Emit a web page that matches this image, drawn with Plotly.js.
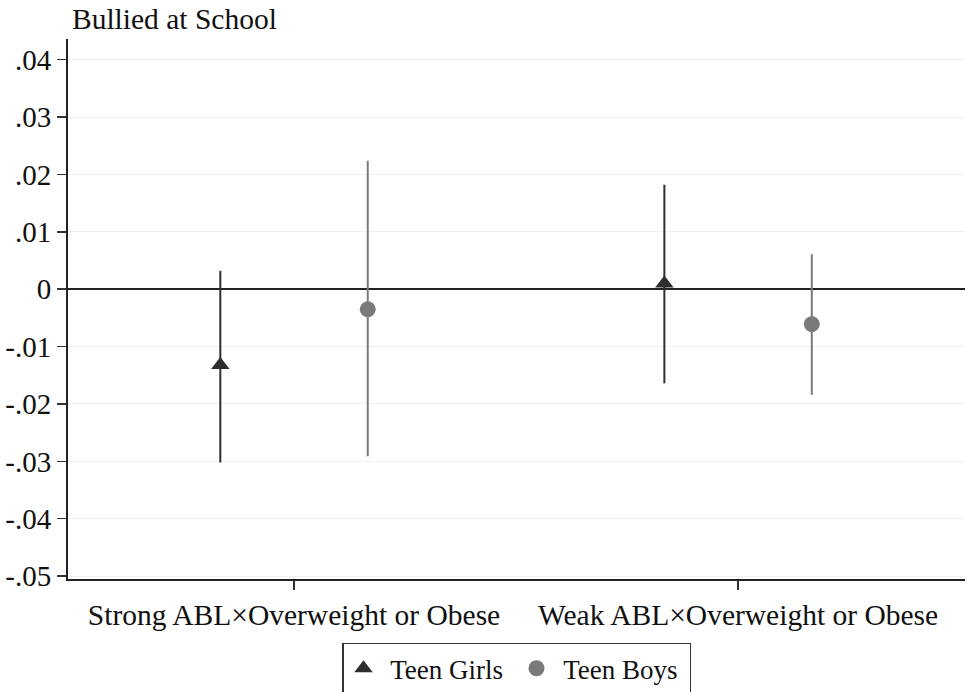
<!DOCTYPE html>
<html>
<head>
<meta charset="utf-8">
<script src="https://cdn.plot.ly/plotly-3.0.1.min.js"></script>
<style>
  html, body { margin: 0; padding: 0; background: #fff; }
  #chart { width: 969px; height: 692px; }
</style>
</head>
<body>
<div id="chart"></div>
<script>
// Categories and tick labels
const categories = ["Strong ABL×Overweight or Obese", "Weak ABL×Overweight or Obese"];
const categoryPos = [1, 2];
const yTickVals = [0.04, 0.03, 0.02, 0.01, 0, -0.01, -0.02, -0.03, -0.04, -0.05];
const yTickText = [".04", ".03", ".02", ".01", "0", "-.01", "-.02", "-.03", "-.04", "-.05"];

// Series: point estimates and 95% CI bounds
const girlsEst   = [-0.0132, 0.0010];
const girlsLower = [-0.0302, -0.0164];
const girlsUpper = [0.0032, 0.0182];

const boysEst    = [-0.0035, -0.0061];
const boysLower  = [-0.0291, -0.0184];
const boysUpper  = [0.0224, 0.0061];

const offset = 0.166;
const font = "Liberation Serif, Times New Roman, serif";

function series(name, pos, est, lo, hi, sym, col, sz) {
  return {
    type: "scatter",
    mode: "markers",
    name: name,
    x: pos,
    y: est,
    marker: { symbol: sym, color: col, size: sz },
    error_y: {
      type: "data",
      symmetric: false,
      array: hi.map((h, i) => h - est[i]),
      arrayminus: lo.map((l, i) => est[i] - l),
      color: col,
      thickness: 2,
      width: 0
    }
  };
}

const traces = [
  series("\u00a0Teen Girls", categoryPos.map(p => p - offset), girlsEst, girlsLower, girlsUpper, "triangle-up", "#2e2e2e", 16),
  series("\u00a0Teen Boys", categoryPos.map(p => p + offset), boysEst, boysLower, boysUpper, "circle", "#7a7a7a", 16)
];

const layout = {
  width: 969,
  height: 692,
  margin: { l: 68, r: 4, t: 39, b: 113, autoexpand: false },
  paper_bgcolor: "#ffffff",
  plot_bgcolor: "#ffffff",
  font: { family: font, size: 29.5, color: "#111" },
  title: {
    text: "Bullied at School",
    font: { family: font, size: 29.5, color: "#111" },
    xref: "container", yref: "container",
    x: 72 / 969, xanchor: "left",
    y: 1 - 19 / 692, yanchor: "middle"
  },
  xaxis: {
    range: [0.491, 2.511],
    tickmode: "array",
    tickvals: categoryPos,
    ticktext: categories,
    ticks: "outside",
    ticklen: 9,
    tickwidth: 1.5,
    tickcolor: "#333",
    showline: true,
    linecolor: "#222",
    linewidth: 2,
    showgrid: false,
    zeroline: false,
    automargin: false,
    tickfont: { family: font, size: 29.5, color: "#111" },
    fixedrange: true
  },
  yaxis: {
    range: [-0.0505, 0.0436],
    tickmode: "array",
    tickvals: yTickVals,
    ticktext: yTickText,
    ticks: "outside",
    ticklen: 9,
    tickwidth: 1.5,
    tickcolor: "#333",
    showline: true,
    linecolor: "#222",
    linewidth: 2,
    showgrid: true,
    gridcolor: "#efefef",
    gridwidth: 1,
    zeroline: true,
    zerolinecolor: "#222",
    zerolinewidth: 2,
    automargin: false,
    tickfont: { family: font, size: 29, color: "#111" },
    fixedrange: true
  },
  showlegend: true,
  legend: {
    orientation: "h",
    x: 0.5, xanchor: "center",
    xref: "paper", yref: "paper",
    y: -0.118, yanchor: "top",
    bordercolor: "#333",
    borderwidth: 1.5,
    bgcolor: "#ffffff",
    font: { family: font, size: 27, color: "#111" },
    itemwidth: 30,
    entrywidth: 128,
    entrywidthmode: "pixels"
  }
};

Plotly.newPlot("chart", traces, layout, { displayModeBar: false, staticPlot: true });
</script>
</body>
</html>
